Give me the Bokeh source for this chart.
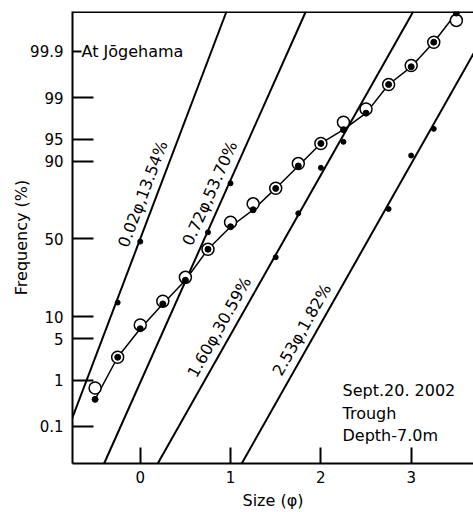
import math
from statistics import NormalDist
from bokeh.plotting import figure
from bokeh.models import Range1d, FixedTicker, Span, Label, ColumnDataSource
from bokeh.core.properties import value
from bokeh.embed import file_html
from bokeh.resources import INLINE

# ---------------- data ----------------
size_phi = [-0.5, -0.25, 0.0, 0.25, 0.5, 0.75, 1.0, 1.25, 1.5, 1.75,
            2.0, 2.25, 2.5, 2.75, 3.0, 3.25, 3.5]
measured_pct = [0.41, 2.56, 6.94, 14.2, 24.8, 43.2, 57.9, 68.4, 79.7, 88.5,
                94.2, 96.4, 98.08, 99.45, 99.77, 99.94, 99.99]
computed_pct = [0.70, 2.56, 7.82, 15.2, 26.3, 43.2, 60.8, 71.8, 79.8, 89.25,
                94.2, 97.26, 98.38, 99.45, 99.785, 99.94, 99.984]

comp_center = [0.00, 0.71, 1.60, 2.53]      # phi at 50 %
comp_sorting = [0.255, 0.30, 0.38, 0.38]    # phi per standard deviation
comp_labels = ["0.02\u03c6,13.54%", "0.72\u03c6,53.70%",
               "1.60\u03c6,30.59%", "2.53\u03c6,1.82%"]
comp_label_pct = [74.5, 74.5, 5.9, 5.4]     # where each label sits on its line
comp_pts_phi = [[-0.25, 0.0], [0.75, 1.0], [1.5, 1.75, 2.0, 2.25], [2.75, 3.0, 3.25]]
comp_pts_pct = [[14.7, 48.2], [54.3, 82.0], [38.1, 66.3, 87.9, 94.5], [68.9, 91.5, 96.5]]

y_tick_pct = [0.1, 1, 5, 10, 50, 90, 95, 99, 99.9]
y_tick_text = ["0.1", "1", "5", "10", "50", "90", "95", "99", "99.9"]
x_ticks = [0, 1, 2, 3]
note_lines = ["Sept.20. 2002", "Trough", "Depth-7.0m"]

# ---------------- helpers ----------------
nd = NormalDist()
def pz(p):
    return nd.inv_cdf(p / 100.0)

FONT = "DejaVu Sans"
W, H = 473, 512
LEFT, RIGHT, TOP, BOTTOM = 72, 0, 11, 49
X0, X1 = -0.75, 3.69
Z0, Z1 = -3.70, 3.745
frame_w = W - LEFT - RIGHT
frame_h = H - TOP - BOTTOM
px_phi = frame_w / (X1 - X0)
px_z = frame_h / (Z1 - Z0)

p = figure(width=W, height=H, output_backend="svg", toolbar_location=None,
           x_range=Range1d(X0, X1), y_range=Range1d(Z0, Z1),
           min_border_left=LEFT, min_border_right=RIGHT,
           min_border_top=TOP, min_border_bottom=BOTTOM)
p.outline_line_color = None
p.xgrid.visible = False
p.ygrid.visible = False
p.background_fill_color = "white"
p.border_fill_color = "white"

# axes
for ax in (p.xaxis[0], p.yaxis[0]):
    ax.axis_line_width = 2
    ax.axis_line_color = "black"
    ax.major_tick_line_width = 2
    ax.major_tick_line_color = "black"
    ax.major_tick_out = 0
    ax.minor_tick_line_color = None
    ax.major_label_text_font = FONT
    ax.major_label_text_font_size = "15px"
    ax.major_label_text_color = "black"
    ax.axis_label_text_font = FONT
    ax.axis_label_text_font_size = "16px"
    ax.axis_label_text_font_style = "normal"
    ax.axis_label_text_color = "black"

p.xaxis.ticker = FixedTicker(ticks=x_ticks)
p.xaxis.major_tick_in = 16
p.xaxis.major_label_standoff = 7
p.xaxis.axis_label = "Size (\u03c6)"
p.xaxis.axis_label_standoff = 5

yt = [pz(v) for v in y_tick_pct]
p.yaxis.ticker = FixedTicker(ticks=yt)
p.yaxis.major_label_overrides = {t: s for t, s in zip(yt, y_tick_text)}
p.yaxis.major_tick_in = 21
p.yaxis.major_label_standoff = 9
p.yaxis.axis_label = "Frequency (%)"
p.yaxis.axis_label_standoff = -4

# top border
p.add_layout(Span(location=Z1, dimension="width", line_color="black", line_width=3))

# component straight lines
for c, s in zip(comp_center, comp_sorting):
    p.line([c + s * Z0, c + s * Z1], [Z0, Z1], line_color="black", line_width=2)

# component dots
for xs, ps in zip(comp_pts_phi, comp_pts_pct):
    p.scatter(xs, [pz(v) for v in ps], size=5, color="black")

# component labels
lab_x, lab_y, lab_a, lab_xo, lab_yo = [], [], [], [], []
d = 4
for c, s, lp in zip(comp_center, comp_sorting, comp_label_pct):
    zz = pz(lp)
    th = math.atan((1.0 / s) * px_z / px_phi)
    lab_x.append(c + s * zz)
    lab_y.append(zz)
    lab_a.append(th)
    lab_xo.append(-math.sin(th) * d)
    lab_yo.append(-math.cos(th) * d)
src = ColumnDataSource(dict(x=lab_x, y=lab_y, t=comp_labels, a=lab_a, xo=lab_xo, yo=lab_yo))
p.text(x="x", y="y", text="t", angle="a", x_offset="xo", y_offset="yo", source=src,
       text_align="center", text_baseline="bottom", text_font=value(FONT),
       text_font_size="16px", text_color="black")

# measured curve
mz = [pz(v) for v in measured_pct]
cz = [pz(v) for v in computed_pct]
p.line(size_phi, mz, line_color="black", line_width=1.5)
p.scatter(size_phi, cz, size=12, marker="circle", fill_color="white",
          line_color="black", line_width=1.5)
p.scatter(size_phi, mz, size=6, color="black")

# texts
p.add_layout(Label(x=X0, y=pz(99.9), x_offset=9, text="At J\u014dgehama",
                   text_font=FONT, text_font_size="16px", text_baseline="middle",
                   text_color="black", background_fill_color="white"))
for i, t in enumerate(note_lines):
    p.add_layout(Label(x=270, y=(H - BOTTOM) - 390 - 22.5 * i,
                       x_units="screen", y_units="screen",
                       text=t, text_font=FONT, text_font_size="16px",
                       text_baseline="middle", text_color="black"))

open("out.html", "w").write(file_html(p, INLINE))
